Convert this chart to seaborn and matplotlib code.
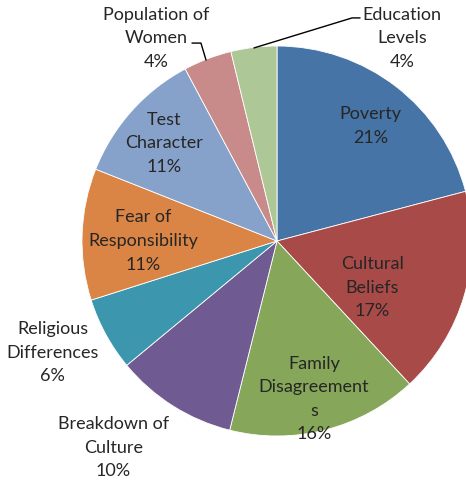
import matplotlib
matplotlib.use("Agg")
import matplotlib.pyplot as plt
import seaborn as sns
import numpy as np

categories = ["Poverty", "Cultural\nBeliefs", "Family\nDisagreement\ns",
              "Breakdown of\nCulture", "Religious\nDifferences", "Fear of\nResponsibility",
              "Test\nCharacter", "Population of\nWomen", "Education\nLevels"]
values = [20.9, 17.2, 15.8, 10.1, 6.1, 10.9, 11.2, 4.0, 3.8]
pct_labels = ["21%", "17%", "16%", "10%", "6%", "11%", "11%", "4%", "4%"]
colors = ["#4674A6", "#A84A48", "#86A65A", "#6F5B92", "#3C96AD",
          "#DA8545", "#87A2CA", "#C98A8A", "#ADC896"]

sns.set_theme(style="white")
plt.rcParams["font.family"] = ["Lato", "DejaVu Sans"]

fig = plt.figure(figsize=(4.66, 4.82), dpi=100)
ax = fig.add_axes([0, 0, 1, 1])
wedges, _ = ax.pie(values, colors=colors, startangle=90, counterclock=False,
                   radius=1.0, center=(0, 0),
                   wedgeprops=dict(edgecolor="white", linewidth=0.6))
ax.set_xlim(-277 / 195, 189 / 195)
ax.set_ylim(-241 / 195, 241 / 195)
ax.set_aspect("equal")
ax.axis("off")

# label positions (in radius units, relative to pie centre)
label_pos = [(0.48, 0.59), (0.49, -0.24), (0.19, -0.81), (-0.84, -1.06),
             (-1.15, -0.574), (-0.687, 0.0), (-0.58, 0.50), (-0.62, 1.04), (0.64, 1.04)]
for cat, pct, (x, y) in zip(categories, pct_labels, label_pos):
    ax.text(x, y, f"{cat}\n{pct}", ha="center", va="center", fontsize=13.0,
            color="#262626", linespacing=1.58)

# leader lines for small slices
ax.plot([-0.436, -0.39, -0.364], [1.015, 1.015, 0.928], color="black", lw=1)
ax.plot([0.426, 0.385, -0.118], [1.144, 1.144, 0.99], color="black", lw=1)

fig.savefig("out.png", dpi=100)
